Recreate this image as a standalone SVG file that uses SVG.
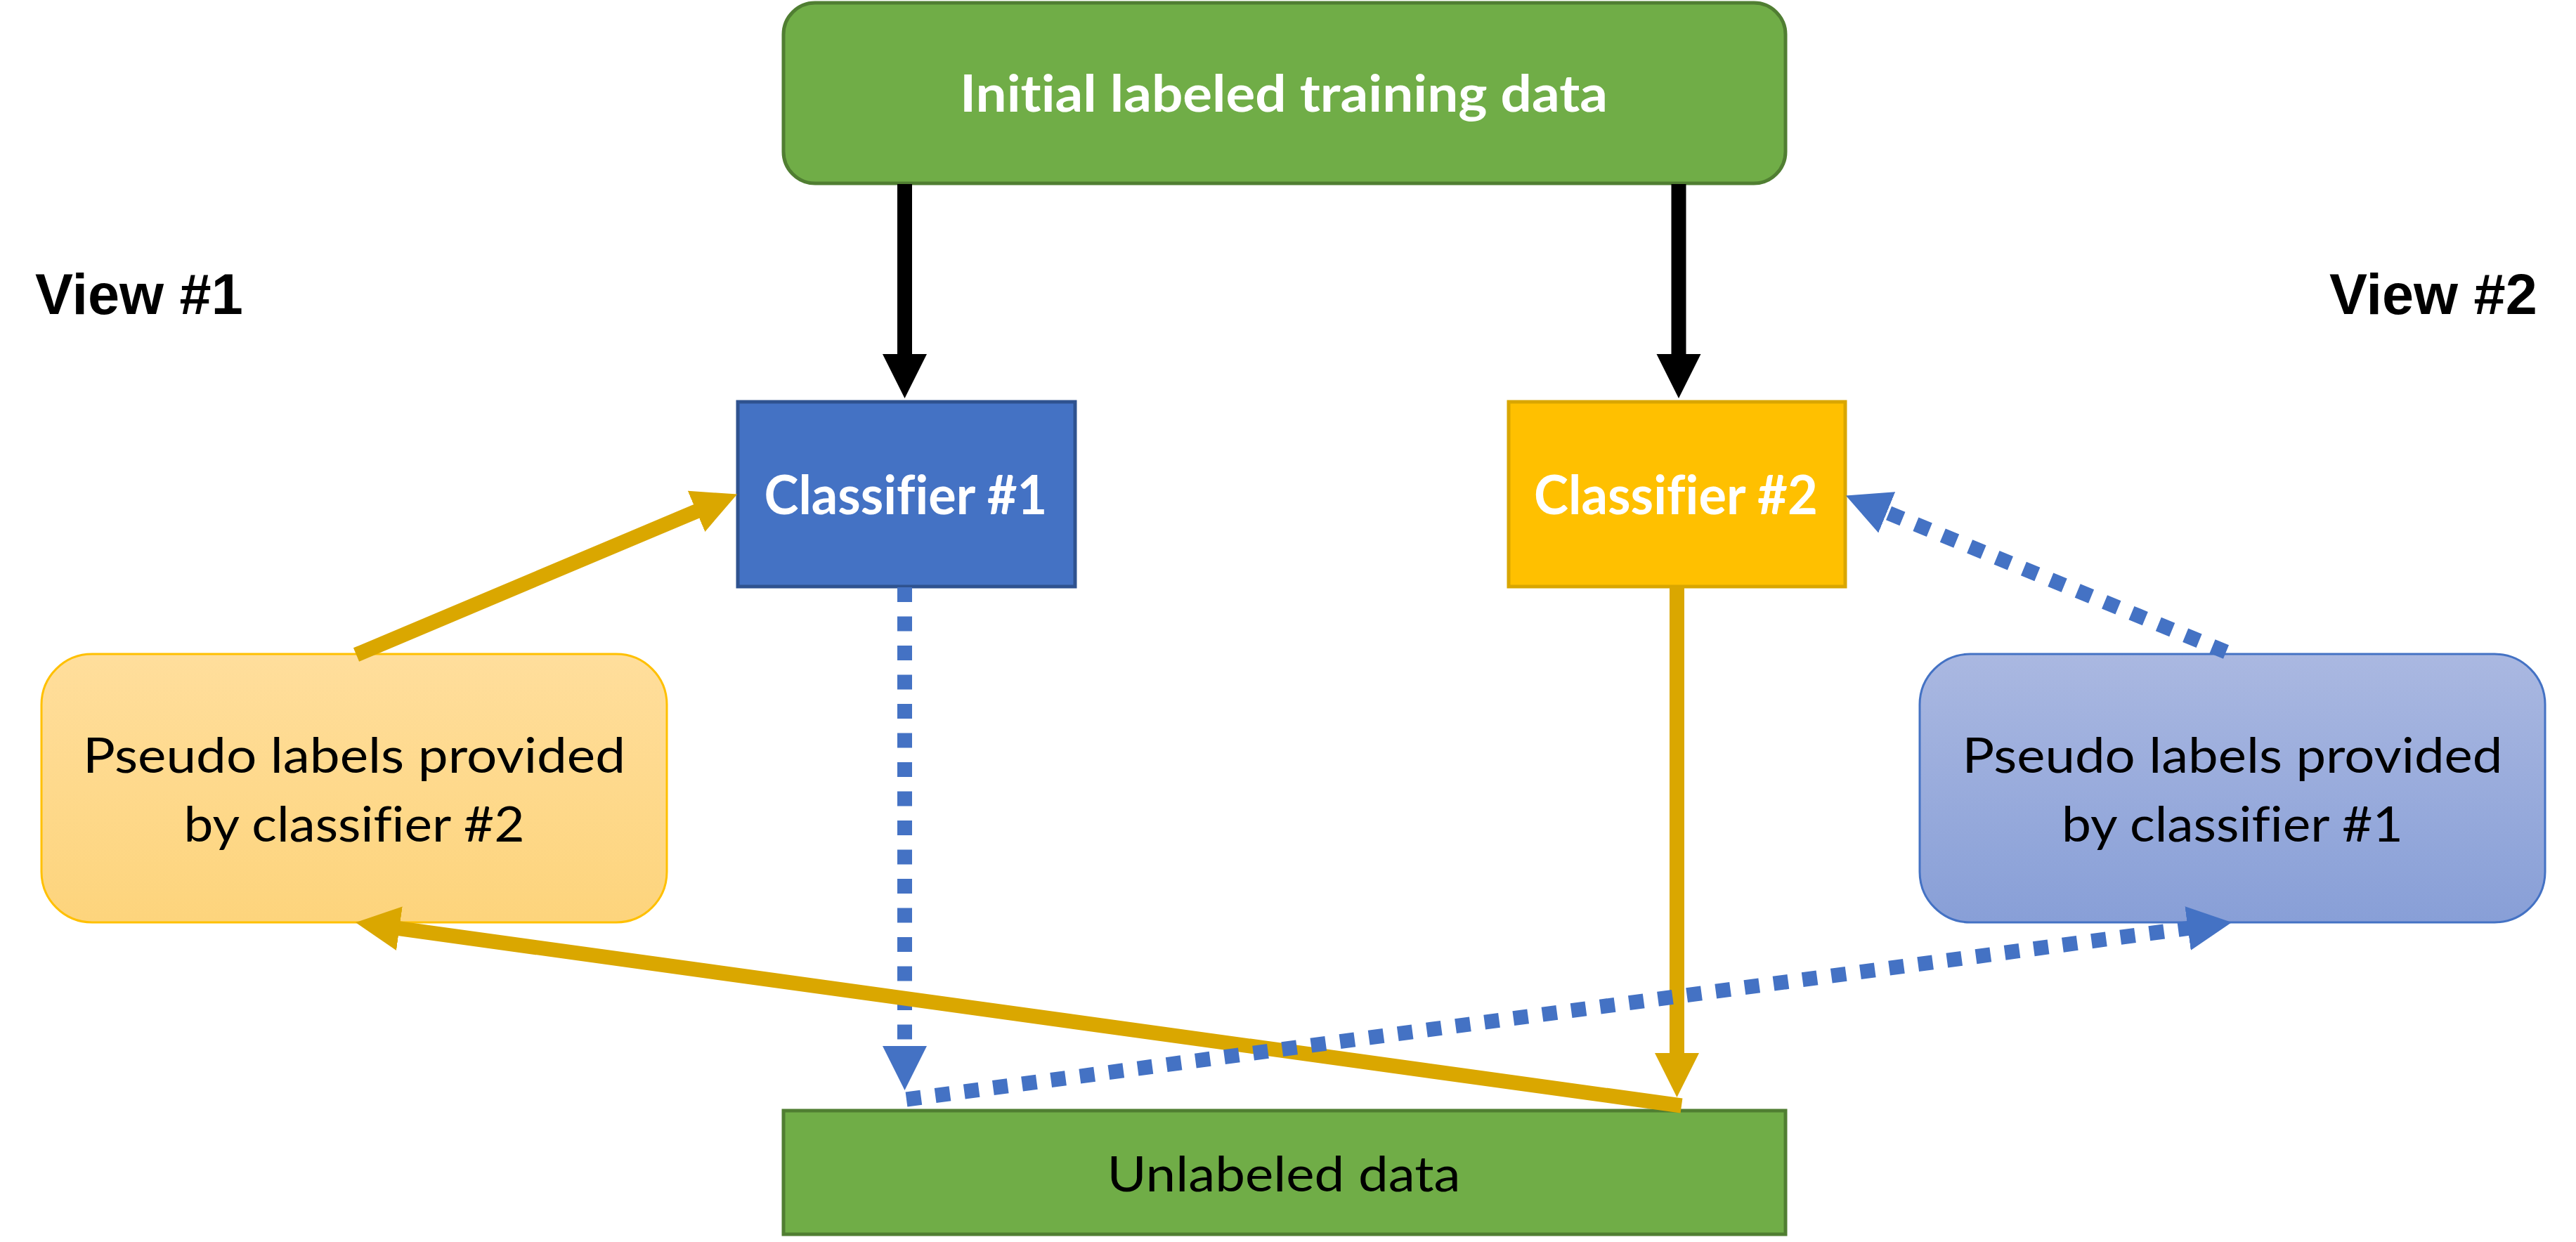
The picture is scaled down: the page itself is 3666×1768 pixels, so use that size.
<svg xmlns="http://www.w3.org/2000/svg" width="3666" height="1768" viewBox="0 0 3666 1768">
<defs>
<style>
text{font-variant-ligatures:none;font-feature-settings:"liga" 0,"clig" 0}
.bold{font-family:Lato,"Open Sans","Noto Sans",sans-serif;font-weight:700;fill:#FFFFFF;text-anchor:middle}
.reg{font-family:Lato,"Open Sans","Noto Sans",sans-serif;font-weight:400;fill:#000000;text-anchor:middle}
.view{font-family:"Liberation Sans",Arial,sans-serif;font-weight:700;font-size:81px;fill:#000000}
.blk{stroke:#000000;stroke-width:21;fill:none}
.blu{stroke:#4472C4;stroke-width:21;fill:none;stroke-dasharray:21 20.5}
.gld{stroke:#DAA700;stroke-width:21;fill:none}
</style>
<marker id="hBlack" markerUnits="userSpaceOnUse" markerWidth="64" markerHeight="64" refX="1" refY="31.5" orient="auto" viewBox="0 0 64 63"><path d="M0,0 L63,31.5 L0,63 Z" fill="#000000"/></marker>
<marker id="hBlue" markerUnits="userSpaceOnUse" markerWidth="64" markerHeight="64" refX="1" refY="31.5" orient="auto" viewBox="0 0 64 63"><path d="M0,0 L63,31.5 L0,63 Z" fill="#4472C4"/></marker>
<marker id="hGold" markerUnits="userSpaceOnUse" markerWidth="64" markerHeight="64" refX="1" refY="31.5" orient="auto" viewBox="0 0 64 63"><path d="M0,0 L63,31.5 L0,63 Z" fill="#DAA700"/></marker>
<linearGradient id="gYel" x1="0" y1="0" x2="0" y2="1"><stop offset="0" stop-color="#FFDE9C"/><stop offset="1" stop-color="#FDD47C"/></linearGradient>
<linearGradient id="gBlu" x1="0" y1="0" x2="0" y2="1"><stop offset="0" stop-color="#AAB8E1"/><stop offset="1" stop-color="#889FD7"/></linearGradient>
</defs>
<rect width="3666" height="1768" fill="#FFFFFF"/>

<g id="node-initial">
<rect x="1115" y="4" width="1426" height="257" rx="45" ry="45" fill="#70AD47" stroke="#507E32" stroke-width="5"/>
<text class="bold" x="1827" y="159" font-size="72" textLength="922" lengthAdjust="spacingAndGlyphs">Initial labeled training data</text>
</g>

<g id="node-view1"><text class="view" x="50" y="447">View #1</text></g>
<g id="node-view2"><text class="view" x="3315" y="447">View #2</text></g>

<g id="node-classifier1">
<rect x="1050" y="572" width="480" height="263" fill="#4472C4" stroke="#2F528F" stroke-width="5"/>
<text class="bold" x="1289" y="732" font-size="76" textLength="403" lengthAdjust="spacingAndGlyphs">Classifier #1</text>
</g>

<g id="node-classifier2">
<rect x="2147" y="572" width="479" height="263" fill="#FFC000" stroke="#D9A600" stroke-width="5"/>
<text class="bold" x="2385" y="732" font-size="76" textLength="404" lengthAdjust="spacingAndGlyphs">Classifier #2</text>
</g>

<g id="node-pseudo2">
<rect x="59" y="931" width="890" height="382" rx="72" ry="72" fill="url(#gYel)" stroke="#FFC000" stroke-width="3"/>
<text class="reg" x="504" y="1100" font-size="70" textLength="772" lengthAdjust="spacingAndGlyphs">Pseudo labels provided</text>
<text class="reg" x="504" y="1198" font-size="70" textLength="485" lengthAdjust="spacingAndGlyphs">by classifier #2</text>
</g>

<g id="node-pseudo1">
<rect x="2732" y="931" width="890" height="382" rx="72" ry="72" fill="url(#gBlu)" stroke="#4472C4" stroke-width="3"/>
<text class="reg" x="3177" y="1100" font-size="70" textLength="769" lengthAdjust="spacingAndGlyphs">Pseudo labels provided</text>
<text class="reg" x="3177" y="1198" font-size="70" textLength="486" lengthAdjust="spacingAndGlyphs">by classifier #1</text>
</g>

<g id="node-unlabeled">
<rect x="1115" y="1581" width="1426" height="176" fill="#70AD47" stroke="#507E32" stroke-width="5"/>
<text class="reg" x="1827" y="1696" font-size="70" textLength="503" lengthAdjust="spacingAndGlyphs">Unlabeled data</text>
</g>

<g id="connectors">
<path class="blk" d="M1287.5 262 V505" marker-end="url(#hBlack)"/>
<path class="blk" d="M2389 262 V505" marker-end="url(#hBlack)"/>
<path class="blu" d="M1287.5 836 V1490" marker-end="url(#hBlue)"/>
<path class="blu" d="M3168 928 L2684.3 729" marker-end="url(#hBlue)"/>
<path class="gld" d="M507 932 L992 727.5" marker-end="url(#hGold)"/>
<path class="gld" d="M2386.5 836 V1500" marker-end="url(#hGold)"/>
<path class="gld" d="M2393 1574 L567.4 1321.6" marker-end="url(#hGold)"/>
<path class="blu" d="M1290 1565 L3114.6 1321.3" marker-end="url(#hBlue)"/>
</g>
</svg>
